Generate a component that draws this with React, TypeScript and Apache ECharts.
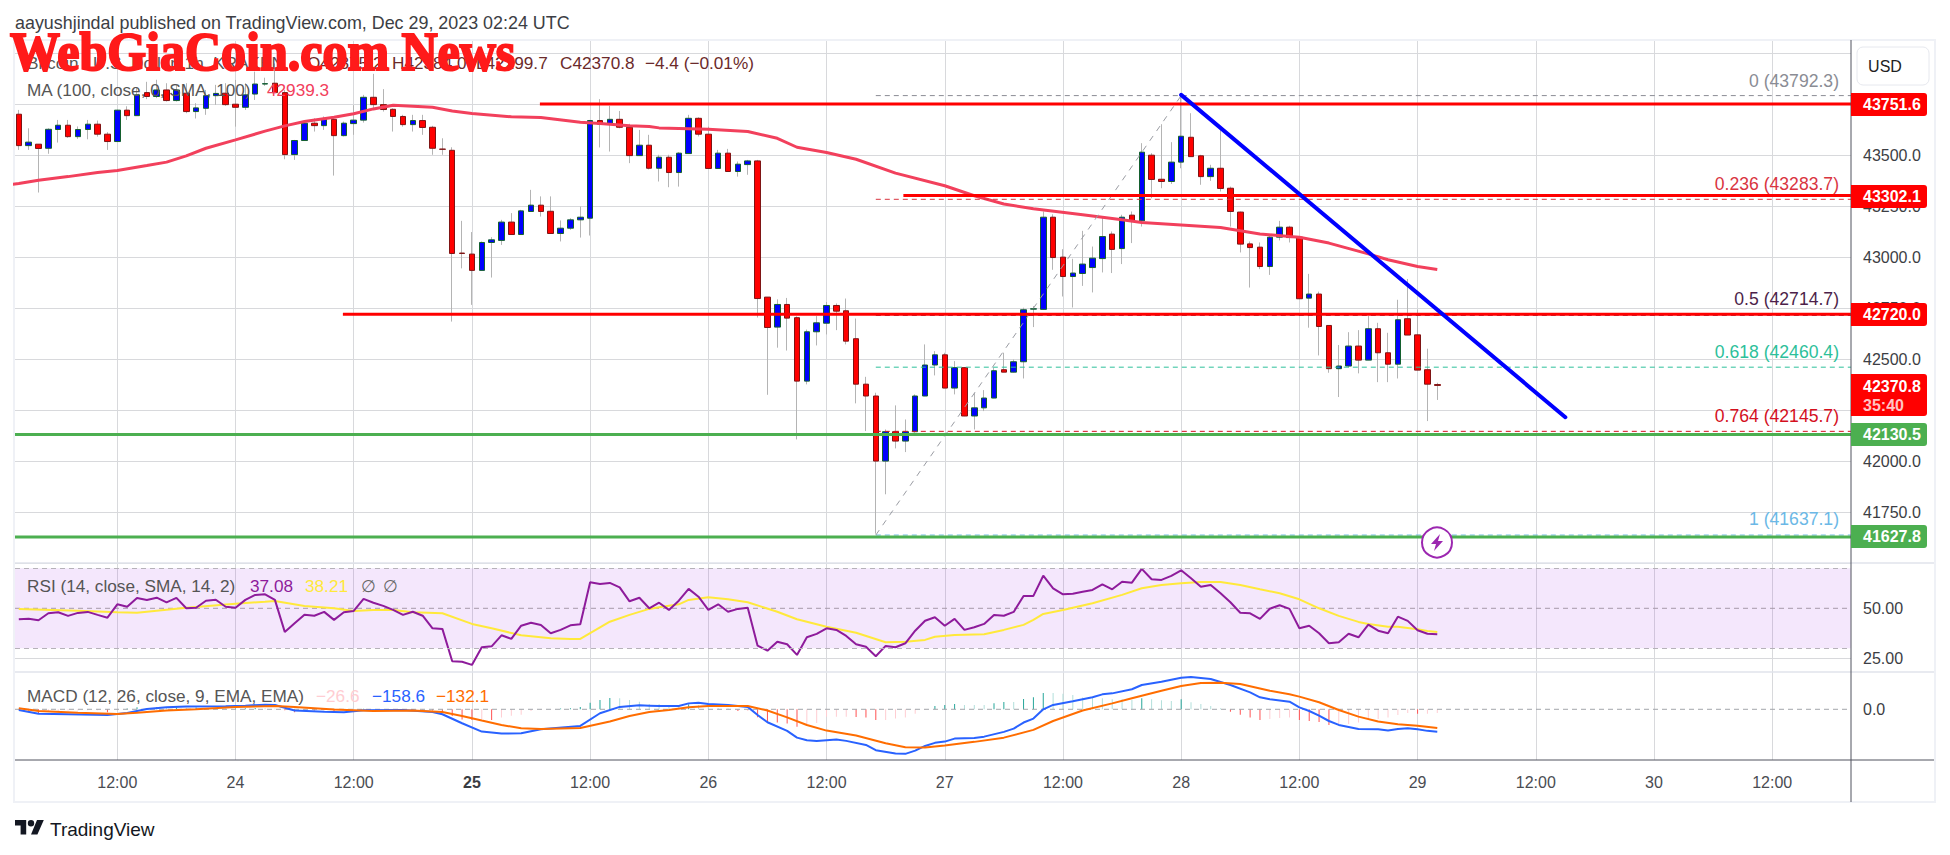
import React, { useEffect, useRef } from "react";
import * as echarts from "echarts";

const firstHour = 2;
const opens = [43701,43547,43554,43534,43626,43647,43591,43626,43652,43603,43567,43721,43694,43807,43788,43820,43768,43804,43714,43730,43792,43804,43750,43735,43800,43849,43853,43807,43503,43572,43657,43645,43676,43596,43655,43672,43784,43748,43725,43690,43650,43670,43637,43530,43524,43020,43015,42935,43072,43082,43172,43111,43224,43255,43225,43116,43142,43183,43191,43670,43652,43676,43637,43498,43549,43436,43490,43415,43508,43681,43603,43435,43510,43420,43454,43472,42804,42657,42768,42703,42392,42634,42676,42763,42737,42600,42377,42319,42000,42144,42098,42144,42319,42471,42521,42358,42458,42221,42261,42309,42448,42436,42487,42745,42744,43196,43000,42905,42920,42949,42993,43113,43042,43206,43178,43500,43382,43371,43466,43588,43497,43395,43436,43338,43221,43065,43049,42954,43098,43147,43098,42799,42819,42665,42453,42466,42564,42495,42649,42531,42475,42698,42619,42448,42375.2];
const closes = [43547,43564,43533,43627,43647,43591,43626,43652,43603,43567,43721,43694,43796,43788,43820,43768,43820,43714,43732,43792,43803,43748,43735,43796,43849,43851,43807,43503,43572,43657,43645,43676,43596,43657,43672,43784,43748,43724,43690,43650,43670,43636,43534,43529,43018,43018,42935,43072,43085,43172,43111,43227,43255,43224,43116,43142,43183,43196,43670,43652,43676,43637,43498,43549,43436,43490,43415,43510,43681,43603,43435,43510,43420,43456,43472,42797,42655,42768,42701,42392,42634,42678,42763,42735,42588,42377,42319,42000,42144,42098,42144,42319,42471,42521,42358,42458,42221,42261,42309,42443,42436,42487,42742,42747,43196,42998,42905,42922,42966,42995,43101,43038,43196,43180,43515,43381,43371,43466,43593,43493,43395,43436,43337,43224,43064,43047,42954,43098,43147,43096,42796,42819,42660,42453,42466,42564,42495,42649,42531,42475,42693,42618,42446,42377,42370.8];
const lows = [43526,43526,43317,43507,43562,43585,43580,43578,43591,43526,43567,43673,43694,43775,43780,43763,43763,43706,43680,43698,43747,43742,43640,43722,43771,43840,43807,43480,43477,43572,43616,43624,43400,43592,43600,43660,43722,43714,43616,43640,43616,43600,43502,43502,42684,42945,42766,42935,42900,43060,43110,43110,43224,43199,43115,43077,43134,43096,43106,43538,43518,43632,43461,43498,43430,43371,43343,43346,43508,43592,43434,43434,43419,43395,43404,42704,42325,42556,42542,42106,42376,42567,42621,42642,42572,42283,42147,41644,41837,42062,42044,42139,42318,42420,42357,42327,42220,42155,42245,42308,42436,42435,42405,42657,42743,42938,42807,42753,42859,42827,42925,42922,42966,43069,43150,43289,43338,43359,43436,43493,43355,43374,43322,43150,43023,42851,42941,42913,43082,43072,42796,42654,42518,42433,42314,42458,42430,42495,42387,42387,42405,42618,42446,42196,42299.7];
const highs = [43722,43632,43554,43632,43673,43673,43641,43673,43670,43613,43723,43740,43830,43860,43870,43853,43845,43853,43755,43820,43845,43853,43869,43853,43910,43880,43950,43820,43575,43660,43681,43690,43690,43665,43745,43796,43899,43824,43730,43698,43698,43698,43644,43583,43539,43178,43123,43077,43098,43183,43216,43232,43330,43298,43298,43180,43191,43248,43673,43775,43742,43717,43654,43624,43600,43502,43502,43515,43698,43686,43640,43526,43531,43469,43477,43477,42804,42793,42800,42710,42645,42711,42780,42773,42797,42699,42413,42335,42155,42273,42204,42327,42572,42539,42531,42490,42461,42335,42348,42457,42531,42498,42752,42760,43224,43210,43039,42992,43129,43052,43199,43126,43208,43224,43559,43510,43652,43564,43796,43706,43502,43453,43624,43346,43224,43077,43072,43109,43178,43154,43100,42918,42831,42665,42569,42632,42642,42711,42678,42629,42791,42893,42743,42551,42384];

const maHours = [1,2,4,7,10,12,15,17,19,21,24,27,29,31,34,36,38,40,44,46,48,52,55,59,61,64,66,67,72,76,79,81,84,87,91,96,99,102,105,110,114,116,120,124,126,128,131,132,135,139,141,144,146];
const maValues = [43355,43361,43377,43395,43415,43425,43449,43466,43497,43534,43575,43618,43644,43665,43686,43703,43727,43745,43735,43717,43704,43688,43685,43662,43655,43644,43641,43634,43627,43616,43583,43539,43513,43480,43412,43350,43301,43261,43237,43208,43183,43170,43158,43145,43129,43114,43101,43098,43069,43016,42987,42954,42939.3];

const rsiValues = [44.5,44.8,44.0,47.5,48.0,46.2,47.7,48.2,46.7,45.3,52.0,50.8,55.2,54.2,55.3,53.0,55.2,50.0,50.3,53.8,54.3,50.8,50.3,54.2,56.7,57.0,54.2,38.2,42.5,46.8,46.3,48.2,44.2,48.0,48.7,54.7,52.8,51.2,49.2,46.7,48.3,46.3,40.0,39.7,23.5,23.3,21.7,30.5,31.0,36.5,34.7,41.3,42.8,41.7,37.5,39.2,41.5,42.0,63.0,62.2,62.7,60.5,53.5,55.3,50.0,52.8,49.2,53.8,59.7,55.8,49.2,52.0,48.3,49.7,50.3,31.3,28.8,33.3,32.0,26.7,35.5,37.2,40.0,39.2,36.2,32.0,30.8,26.0,31.2,30.5,32.5,38.8,43.8,45.5,41.3,44.7,39.2,40.5,42.2,46.7,46.3,48.2,56.2,56.2,66.3,60.0,57.0,57.3,58.3,59.2,62.0,59.5,63.3,62.8,69.7,64.5,64.2,66.2,69.0,65.0,60.8,61.7,57.5,53.0,47.8,47.5,44.7,49.8,51.5,49.7,40.0,41.3,37.5,32.5,33.0,37.3,35.5,41.8,38.8,37.5,45.8,43.7,39.0,37.3,37.08];
const rsiMaHours = [2,8,12,14,16,19,24,27,28,31,34,36,38,40,42,45,48,50,53,56,58,59,62,64,66,67,69,70,72,74,76,79,81,84,87,90,92,94,95,97,100,102,104,105,106,108,111,114,116,118,120,122,124,126,128,130,132,134,136,138,139,141,142,143,144,145,146];
const rsiMaValues = [49.7,48.8,48.0,47.8,48.8,50.3,52.3,53.3,53.7,51.2,50,48.7,49.2,49.2,48,47.5,42.2,40,36.5,35,34.7,34.7,43.3,46.7,49.7,50.5,52,54.2,55.5,54.5,53,48.3,44.5,40.8,37.8,33,33.3,34.2,35.8,36.7,37,39.2,41.7,44.2,47.2,49.2,52.5,56.7,60,61.7,62.5,63.2,63.2,61.7,59.5,57.5,54.5,50,46.2,43.2,42.2,40.8,40.8,40.2,39.5,38.7,38.21];

const macdHours = [2,4,7,11,13,15,17,19,23,25,27,28,30,33,35,37,41,44,45,47,49,51,53,55,59,61,63,65,66,67,69,70,71,72,74,76,77,78,80,81,82,83,84,85,86,88,89,91,92,93,94,95,96,97,99,100,102,103,104,105,106,107,109,111,112,113,115,116,118,120,121,123,125,127,128,129,131,132,133,134,135,136,138,140,141,142,143,144,145,146];
const macdValues = [-5,-31,-35,-40,-26,2,14,19,21,26,33,31,-9,-17,-21,-7,-5,-19,-35,-99,-158,-172,-170,-142,-118,-28,17,28,26,24,24,42,47,38,31,17,-40,-92,-153,-201,-219,-224,-219,-215,-224,-253,-290,-314,-316,-293,-260,-238,-229,-208,-203,-194,-160,-137,-94,-66,0,31,57,85,106,113,142,172,196,224,229,215,172,120,85,71,54,14,-12,-45,-83,-111,-139,-142,-151,-139,-135,-142,-153,-158.6];
const signalHours = [2,4,8,12,14,17,20,24,28,30,34,38,42,45,47,49,51,53,55,59,62,64,66,68,70,72,76,78,80,82,84,87,90,92,94,96,99,102,105,107,110,113,115,118,120,122,124,126,129,131,132,134,136,138,140,142,144,146];
const signalValues = [7,-12,-24,-33,-24,-9,0,17,24,17,-2,-12,-9,-19,-47,-80,-111,-135,-139,-132,-87,-47,-19,-5,14,24,24,-9,-57,-111,-151,-186,-241,-269,-271,-257,-231,-201,-146,-83,-9,42,78,132,165,186,189,179,132,106,90,50,-5,-52,-87,-106,-116,-132.1];
const histValues = [-4,-10,-28,-12,-10,-9,-8,-7,-7,-21,-5,5,15,10,14,10,12,11,12,9,8,5,6,8,10,8,6,-6,-21,-7,-8,-8,-21,-8,-3,3,2,1,1,1,-1,-3,-8,-21,-47,-73,-76,-71,-76,-59,-45,-38,-12,-5,-2,5,7,17,47,66,80,78,66,54,38,38,24,19,35,28,19,7,5,-12,-12,-57,-92,-94,-101,-123,-118,-97,-52,-52,-52,-54,-59,-76,-76,-66,-59,-31,-5,24,31,38,31,31,31,42,52,52,73,85,116,116,111,101,83,83,78,71,71,66,78,71,64,59,71,50,38,24,7,-17,-38,-59,-76,-68,-61,-59,-76,-83,-90,-111,-111,-104,-94,-71,-68,-59,-40,-26,-31,-31,-26.6];

const timeTickHours = [12,24,36,48,60,72,84,96,108,120,132,144,156,168,180];
const timeTickLabels = ["12:00","24","12:00","25","12:00","26","12:00","27","12:00","28","12:00","29","12:00","30","12:00"];

const resistanceLevels = [43751.6, 43302.1, 42720.0];
const resistanceStarts = [54.9, 91.8, 34.9];
const supportLevels = [42130.5, 41627.8];
const fibPrices = [43792.3, 43283.7, 42714.7, 42460.4, 42145.7, 41637.1];
const fibRatios = ["0", "0.236", "0.5", "0.618", "0.764", "1"];
const fibColors = ["#8a8c94", "#d9343f", "#4d1f4a", "#2dc09a", "#d4101e", "#6bb8e6"];
const trendHours = [120, 159];
const trendPrices = [43796, 42215];
const fibDiagHours = [89, 120];
const fibDiagPrices = [41637.1, 43792.3];

const FONT = "'Liberation Sans', 'Noto Sans', sans-serif";
const xMin = 1.614;
const xMax = 188.0;
const LEGEND = 17.2;

const gridColor = "#d8d9dc";

function txt(x: number, y: number, text: string, fill: string, fontSize = 15, extra: any = {}) {
  return {
    type: "text",
    x,
    y,
    z: 100,
    style: { text, fill, fontSize, fontFamily: FONT, textVerticalAlign: "middle", textAlign: "left", ...extra },
  };
}

function tag(y0: number, y1: number, color: string, label: string) {
  return [
    { type: "rect", z: 90, shape: { x: 1851, y: y0, width: 76, height: y1 - y0, r: [0, 3, 3, 0] }, style: { fill: color } },
    txt(1863, (y0 + y1) / 2, label, "#ffffff", 16, { fontWeight: "bold" }),
  ];
}

function levelSeries(start: number, end: number, price: number, color: string, width: number, type: any = "solid") {
  return {
    type: "line",
    xAxisIndex: 0,
    yAxisIndex: 0,
    symbol: "none",
    silent: true,
    data: [[start, price], [end, price]],
    lineStyle: { color, width, type },
  };
}

function xAxis(gridIndex: number, labels: boolean) {
  return {
    type: "value",
    gridIndex,
    min: xMin,
    max: xMax,
    axisLine: { show: false },
    axisTick: { show: false, customValues: timeTickHours },
    splitLine: { show: true, lineStyle: { color: gridColor, width: 1 } },
    axisLabel: labels
      ? {
          show: true,
          customValues: timeTickHours,
          margin: 14,
          color: "#4a4c52",
          fontSize: 16,
          fontFamily: FONT,
          formatter: (v: number) => {
            const t = timeTickLabels[timeTickHours.indexOf(v)];
            return t === "25" ? "{b|25}" : t;
          },
          rich: { b: { fontWeight: "bold", fontSize: 16, color: "#3a3c42", fontFamily: FONT } },
        }
      : { show: false, customValues: timeTickHours },
  };
}

export default function App() {
  const ref = useRef<HTMLDivElement>(null);
  useEffect(() => {
    document.body.style.margin = "0";
    echarts.graphic.registerShape(
      "tvlogo",
      echarts.graphic.extendPath("M14 18H7V7H0V0h14v18zM28 18h-8L27.5 0H36l-8 18zM24 4a4 4 0 1 1-8 0 4 4 0 0 1 8 0z", {}) as any
    );
    const chart = echarts.init(ref.current!, undefined, { renderer: "svg" });
    const hours = opens.map((_, i) => firstHour + i);
    const fullCandles = hours.map((h, i) => [h, opens[i], closes[i], lows[i], highs[i]]);
    const bodies = hours.map((h, i) => [h, opens[i], closes[i], Math.min(opens[i], closes[i]), Math.max(opens[i], closes[i])]);

    const fibLabelY = [81, 184, 299, 352, 416, 519];

    const option: any = {
      animation: false,
      backgroundColor: "#ffffff",
      grid: [
        { left: 15, right: 99, top: 40, height: 523 },
        { left: 15, right: 99, top: 563, height: 109 },
        { left: 15, right: 99, top: 672, height: 88 },
      ],
      xAxis: [xAxis(0, false), xAxis(1, false), xAxis(2, true)],
      yAxis: [
        {
          type: "value",
          gridIndex: 0,
          position: "right",
          min: 41500,
          max: 44065,
          interval: 250,
          axisLine: { show: false },
          axisTick: { show: false },
          splitLine: { lineStyle: { color: gridColor, width: 1 } },
          axisLabel: {
            margin: 12,
            color: "#3c3e44",
            fontSize: 16,
            fontFamily: FONT,
            showMinLabel: false,
            formatter: (v: number) => v.toFixed(1),
          },
        },
        {
          type: "value",
          gridIndex: 1,
          position: "right",
          min: 18.15,
          max: 72.65,
          axisLine: { show: false },
          axisTick: { show: false, customValues: [25] },
          splitLine: { show: true, lineStyle: { color: gridColor, width: 1 } },
          axisLabel: { customValues: [25, 50], margin: 12, color: "#3c3e44", fontSize: 16, fontFamily: FONT, formatter: (v: number) => v.toFixed(2) },
        },
        {
          type: "value",
          gridIndex: 2,
          position: "right",
          min: -359.6,
          max: 264.5,
          axisLine: { show: false },
          axisTick: { show: false },
          splitLine: { show: false },
          axisLabel: { customValues: [0], margin: 12, color: "#3c3e44", fontSize: 16, fontFamily: FONT, formatter: (v: number) => v.toFixed(1) },
        },
      ],
      series: [
        {
          type: "candlestick",
          name: "wicks",
          xAxisIndex: 0,
          yAxisIndex: 0,
          barWidth: 0.5,
          data: fullCandles,
          itemStyle: { color: "#b4b4b4", color0: "#b4b4b4", borderColor: "#b4b4b4", borderColor0: "#b4b4b4", borderColorDoji: "#b4b4b4", borderWidth: 1 },
        },
        {
          type: "candlestick",
          name: "Bitcoin / U.S. Dollar",
          xAxisIndex: 0,
          yAxisIndex: 0,
          barWidth: 6,
          data: bodies,
          itemStyle: { color: "#0000ff", color0: "#ff0000", borderColor: "#14602e", borderColor0: "#7f1414", borderColorDoji: "#7f1414", borderWidth: 1 },
        },
        {
          type: "line",
          name: "MA",
          xAxisIndex: 0,
          yAxisIndex: 0,
          symbol: "none",
          data: maHours.map((h, i) => [h, maValues[i]]),
          lineStyle: { color: "#f2405c", width: 3 },
        },
        ...fibPrices.map((p, i) => levelSeries(89, xMax, p, fibColors[i], 1, [5, 4])),
        {
          type: "line",
          xAxisIndex: 0,
          yAxisIndex: 0,
          symbol: "none",
          data: fibDiagHours.map((h, i) => [h, fibDiagPrices[i]]),
          lineStyle: { color: "#9a9ca3", width: 1, type: [6, 6] },
        },
        ...resistanceLevels.map((p, i) => levelSeries(resistanceStarts[i], xMax, p, "#ff0000", 3)),
        ...supportLevels.map((p) => levelSeries(xMin, xMax, p, "#4caf50", 3)),
        {
          type: "line",
          name: "Trend",
          xAxisIndex: 0,
          yAxisIndex: 0,
          symbol: "none",
          data: trendHours.map((h, i) => [h, trendPrices[i]]),
          lineStyle: { color: "#0000ff", width: 4, cap: "round" },
        },
        {
          type: "line",
          name: "RSI bands",
          xAxisIndex: 1,
          yAxisIndex: 1,
          symbol: "none",
          data: [[xMin, 50], [xMax, 50]],
          lineStyle: { color: "#a79aa9", width: 1, type: [5, 4] },
          markArea: {
            silent: true,
            itemStyle: { color: "rgba(156,39,226,0.11)" },
            data: [[{ yAxis: 70, xAxis: xMin }, { yAxis: 30, xAxis: xMax }]],
          },
          markLine: {
            silent: true,
            symbol: "none",
            label: { show: false },
            lineStyle: { color: "#b6b2b9", width: 1, type: [5, 4] },
            data: [{ yAxis: 70 }, { yAxis: 30 }],
          },
        },
        {
          type: "line",
          name: "RSI MA",
          xAxisIndex: 1,
          yAxisIndex: 1,
          symbol: "none",
          data: rsiMaHours.map((h, i) => [h, rsiMaValues[i]]),
          lineStyle: { color: "#ffe93b", width: 2 },
        },
        {
          type: "line",
          name: "RSI",
          xAxisIndex: 1,
          yAxisIndex: 1,
          symbol: "none",
          data: hours.map((h, i) => [h, rsiValues[i]]),
          lineStyle: { color: "#8e1b9b", width: 2 },
        },
        {
          type: "line",
          name: "Zero",
          xAxisIndex: 2,
          yAxisIndex: 2,
          symbol: "none",
          data: [[xMin, 0], [xMax, 0]],
          lineStyle: { color: "#a3a5aa", width: 1, type: [5, 4] },
        },
        {
          type: "bar",
          name: "Histogram",
          xAxisIndex: 2,
          yAxisIndex: 2,
          barWidth: 1,
          data: hours.map((h, i) => {
            const v = histValues[i];
            const prev = i > 0 ? histValues[i - 1] : 0;
            const color = v >= 0 ? (v > prev ? "#26a69a" : "#b2dfdb") : v < prev ? "#ff5252" : "#ffcdd2";
            return { value: [h, v], itemStyle: { color } };
          }),
        },
        {
          type: "line",
          name: "MACD",
          xAxisIndex: 2,
          yAxisIndex: 2,
          symbol: "none",
          data: macdHours.map((h, i) => [h, macdValues[i]]),
          lineStyle: { color: "#2962ff", width: 2 },
        },
        {
          type: "line",
          name: "Signal",
          xAxisIndex: 2,
          yAxisIndex: 2,
          symbol: "none",
          data: signalHours.map((h, i) => [h, signalValues[i]]),
          lineStyle: { color: "#ff6d00", width: 2 },
        },
      ],
      graphic: [
        { type: "rect", z: 1, shape: { x: 14, y: 40, width: 1921, height: 762 }, style: { fill: "none", stroke: "#eff1f6", lineWidth: 2 } },
        { type: "line", z: 50, shape: { x1: 15, y1: 563, x2: 1934, y2: 563 }, style: { stroke: "#e0e3eb", lineWidth: 1.5 } },
        { type: "line", z: 50, shape: { x1: 15, y1: 672, x2: 1934, y2: 672 }, style: { stroke: "#e0e3eb", lineWidth: 1.5 } },
        { type: "line", z: 50, shape: { x1: 15, y1: 760, x2: 1934, y2: 760 }, style: { stroke: "#50535e", lineWidth: 1 } },
        { type: "line", z: 50, shape: { x1: 1851, y1: 40, x2: 1851, y2: 802 }, style: { stroke: "#50535e", lineWidth: 1 } },

        txt(15, 23, "aayushjindal published on TradingView.com, Dec 29, 2023 02:24 UTC", "#3c3e44", 17.9),
        txt(27, 63, "Bitcoin / U.S. Dollar, 1h, KRAKEN", "#555", LEGEND),
        txt(307, 63, "O42375.2", "#6b2a2a", LEGEND),
        txt(392, 63, "H42384.0", "#6b2a2a", LEGEND),
        txt(476, 63, "L42299.7", "#6b2a2a", LEGEND),
        txt(560, 63, "C42370.8", "#6b2a2a", LEGEND),
        txt(645, 63, "\u22124.4 (\u22120.01%)", "#6b2a2a", LEGEND),
        txt(27, 90, "MA (100, close, 0, SMA, 100)", "#555", LEGEND),
        txt(267, 90, "42939.3", "#f2405c", LEGEND),

        txt(27, 586, "RSI (14, close, SMA, 14, 2)", "#555", LEGEND),
        txt(250, 586, "37.08", "#8e1b9b", LEGEND),
        txt(305, 586, "38.21", "#ffe93b", LEGEND),
        txt(361, 586, "\u2205", "#666", LEGEND),
        txt(383, 586, "\u2205", "#666", LEGEND),
        txt(27, 696, "MACD (12, 26, close, 9, EMA, EMA)", "#555", LEGEND),
        txt(316, 696, "\u221226.6", "#ffcdd2", LEGEND),
        txt(372, 696, "\u2212158.6", "#2962ff", LEGEND),
        txt(436, 696, "\u2212132.1", "#ff6d00", LEGEND),

        ...fibRatios.map((r, i) =>
          txt(1839, fibLabelY[i], `${r} (${fibPrices[i].toFixed(1)})`, fibColors[i], 17.6, { textAlign: "right" })
        ),

        { type: "rect", z: 90, shape: { x: 1857, y: 47, width: 72, height: 38, r: 6 }, style: { fill: "#fff", stroke: "#e6e8ee", lineWidth: 1 } },
        txt(1885, 66, "USD", "#222", 16, { textAlign: "center" }),

        ...tag(93, 116, "#ff0000", "43751.6"),
        ...tag(185, 208, "#ff0000", "43302.1"),
        ...tag(303, 326, "#ff0000", "42720.0"),
        { type: "rect", z: 90, shape: { x: 1851, y: 374, width: 76, height: 42, r: [0, 3, 3, 0] }, style: { fill: "#ff0000" } },
        txt(1863, 386, "42370.8", "#ffffff", 16, { fontWeight: "bold" }),
        txt(1863, 405, "35:40", "#ffc4c4", 16, { fontWeight: "bold" }),
        ...tag(423, 446, "#4caf50", "42130.5"),
        ...tag(525, 548, "#4caf50", "41627.8"),

        { type: "circle", z: 95, shape: { cx: 1437, cy: 542.5, r: 15 }, style: { fill: "#fff", stroke: "#9c27b0", lineWidth: 2 } },
        { type: "polygon", z: 96, shape: { points: [[1440, 534], [1431, 544], [1436, 544], [1434, 551], [1443, 541], [1438, 541]] }, style: { fill: "#9c27b0" } },

        { type: "tvlogo", z: 100, x: 15, y: 820, scaleX: 0.8, scaleY: 0.8, style: { fill: "#131722" } },
        txt(50, 829, "TradingView", "#131722", 19),

        {
          type: "text",
          z: 110,
          x: 10,
          y: 52,
          scaleX: 1,
          scaleY: 1.08,
          style: {
            text: "WebGiaCoin.com News",
            fill: "#ff1a1a",
            stroke: "#ff1a1a",
            lineWidth: 2,
            fontSize: 50,
            fontWeight: "bold",
            fontFamily: "'Liberation Serif', serif",
            textVerticalAlign: "middle",
            textAlign: "left",
          },
        },
      ],
    };
    chart.setOption(option);
    return () => chart.dispose();
  }, []);
  return <div ref={ref} style={{ position: "fixed", left: 0, top: 0, width: 1950, height: 855, background: "#fff" }} />;
}
